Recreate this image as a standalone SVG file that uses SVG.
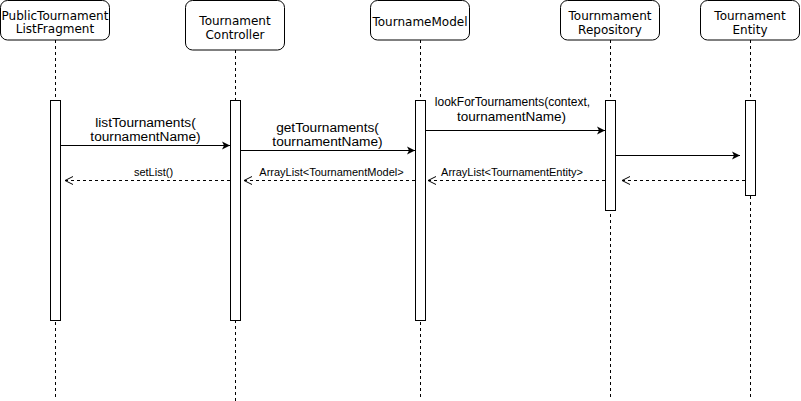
<svg xmlns="http://www.w3.org/2000/svg" width="801" height="401" viewBox="0 0 801 401">
<style>
.box{fill:#fff;stroke:#000;stroke-width:1}
.life{stroke:#000;stroke-width:1;stroke-dasharray:3 3;fill:none}
.bar{fill:#fff;stroke:#000;stroke-width:1}
.hdr{font-family:"DejaVu Sans",sans-serif;font-size:12px;fill:#000;text-anchor:middle}
.lbl{font-family:"Liberation Sans",Arial,sans-serif;font-size:13.7px;fill:#000;text-anchor:middle}
.lbl12{font-family:"Liberation Sans",Arial,sans-serif;font-size:12px;fill:#000;text-anchor:middle}
.rlbl{font-family:"Liberation Sans",Arial,sans-serif;font-size:11px;fill:#000;text-anchor:middle}
.msg{stroke:#000;stroke-width:1;fill:none;marker-end:url(#block)}
.ret{stroke:#000;stroke-width:1;fill:none;stroke-dasharray:3 3}
.open{stroke:#000;stroke-width:1;fill:none}
</style>
<defs>
<marker id="block" markerWidth="9" markerHeight="9" refX="8" refY="4.5" orient="auto" markerUnits="userSpaceOnUse">
<path d="M0,0.5 L8,4.5 L0,8.5 L2,4.5 Z" fill="#000"/>
</marker>
</defs>
<g id="lifelines">
<line class="life" x1="55.5" y1="40" x2="55.5" y2="400"/>
<line class="life" x1="235.5" y1="50" x2="235.5" y2="401"/>
<line class="life" x1="420.5" y1="40" x2="420.5" y2="400"/>
<line class="life" x1="610.5" y1="40" x2="610.5" y2="400"/>
<line class="life" x1="750.5" y1="40" x2="750.5" y2="400"/>
</g>
<g id="node-publictournamentlistfragment">
<rect class="box" x="0.5" y="0.5" width="109" height="39.5" rx="7"/>
<text class="hdr" x="55" y="19.5">PublicTournament</text>
<text class="hdr" x="55" y="33">ListFragment</text>
<rect class="bar" x="50.5" y="100.5" width="10" height="220"/>
</g>
<g id="node-tournamentcontroller">
<rect class="box" x="185.5" y="0.5" width="99" height="49.5" rx="7"/>
<text class="hdr" x="235" y="25">Tournament</text>
<text class="hdr" x="235" y="39">Controller</text>
<rect class="bar" x="230.5" y="100.5" width="10" height="220"/>
</g>
<g id="node-tournamemodel">
<rect class="box" x="370.5" y="0.5" width="99" height="39.5" rx="7"/>
<text class="hdr" x="420" y="26">TournameModel</text>
<rect class="bar" x="415.5" y="100.5" width="10" height="220"/>
</g>
<g id="node-tournamentrepository">
<rect class="box" x="560.5" y="0.5" width="99" height="39.5" rx="7"/>
<text class="hdr" x="610" y="19.5">Tournmament</text>
<text class="hdr" x="610" y="34">Repository</text>
<rect class="bar" x="605.5" y="100.5" width="10" height="110"/>
</g>
<g id="node-tournamententity">
<rect class="box" x="700.5" y="0.5" width="99" height="39.5" rx="7"/>
<text class="hdr" x="750" y="19.5">Tournament</text>
<text class="hdr" x="750" y="34">Entity</text>
<rect class="bar" x="745.5" y="100.5" width="10" height="95"/>
</g>
<g id="connectors">
<line class="msg" x1="60.5" y1="145.5" x2="230" y2="145.5"/>
<text class="lbl" x="145.5" y="127">listTournaments(</text>
<text class="lbl" x="145.5" y="141">tournamentName)</text>
<line class="msg" x1="240.5" y1="150.5" x2="415" y2="150.5"/>
<text class="lbl" x="327.5" y="132">getTournaments(</text>
<text class="lbl" x="327.5" y="146">tournamentName)</text>
<line class="msg" x1="425.5" y1="130.5" x2="605" y2="130.5"/>
<text class="lbl12" x="512.5" y="105.5">lookForTournaments(context,</text>
<text class="lbl" x="511.5" y="121" style="font-size:13.5px">tournamentName)</text>
<line class="msg" x1="615.5" y1="155.5" x2="740" y2="155.5"/>
<line class="ret" x1="745" y1="180.5" x2="622" y2="180.5"/>
<path class="open" d="M630,176.5 L622,180.5 L630,184.5"/>
<line class="ret" x1="605" y1="180.5" x2="428" y2="180.5"/>
<path class="open" d="M436,176.5 L428,180.5 L436,184.5"/>
<text class="rlbl" x="512" y="175.5">ArrayList&lt;TournamentEntity&gt;</text>
<line class="ret" x1="415" y1="180.5" x2="244" y2="180.5"/>
<path class="open" d="M252,176.5 L244,180.5 L252,184.5"/>
<text class="rlbl" x="331.5" y="175.5">ArrayList&lt;TournamentModel&gt;</text>
<line class="ret" x1="230" y1="180.5" x2="65" y2="180.5"/>
<path class="open" d="M73,176.5 L65,180.5 L73,184.5"/>
<text class="rlbl" x="153.5" y="175.5">setList()</text>
</g>
</svg>
